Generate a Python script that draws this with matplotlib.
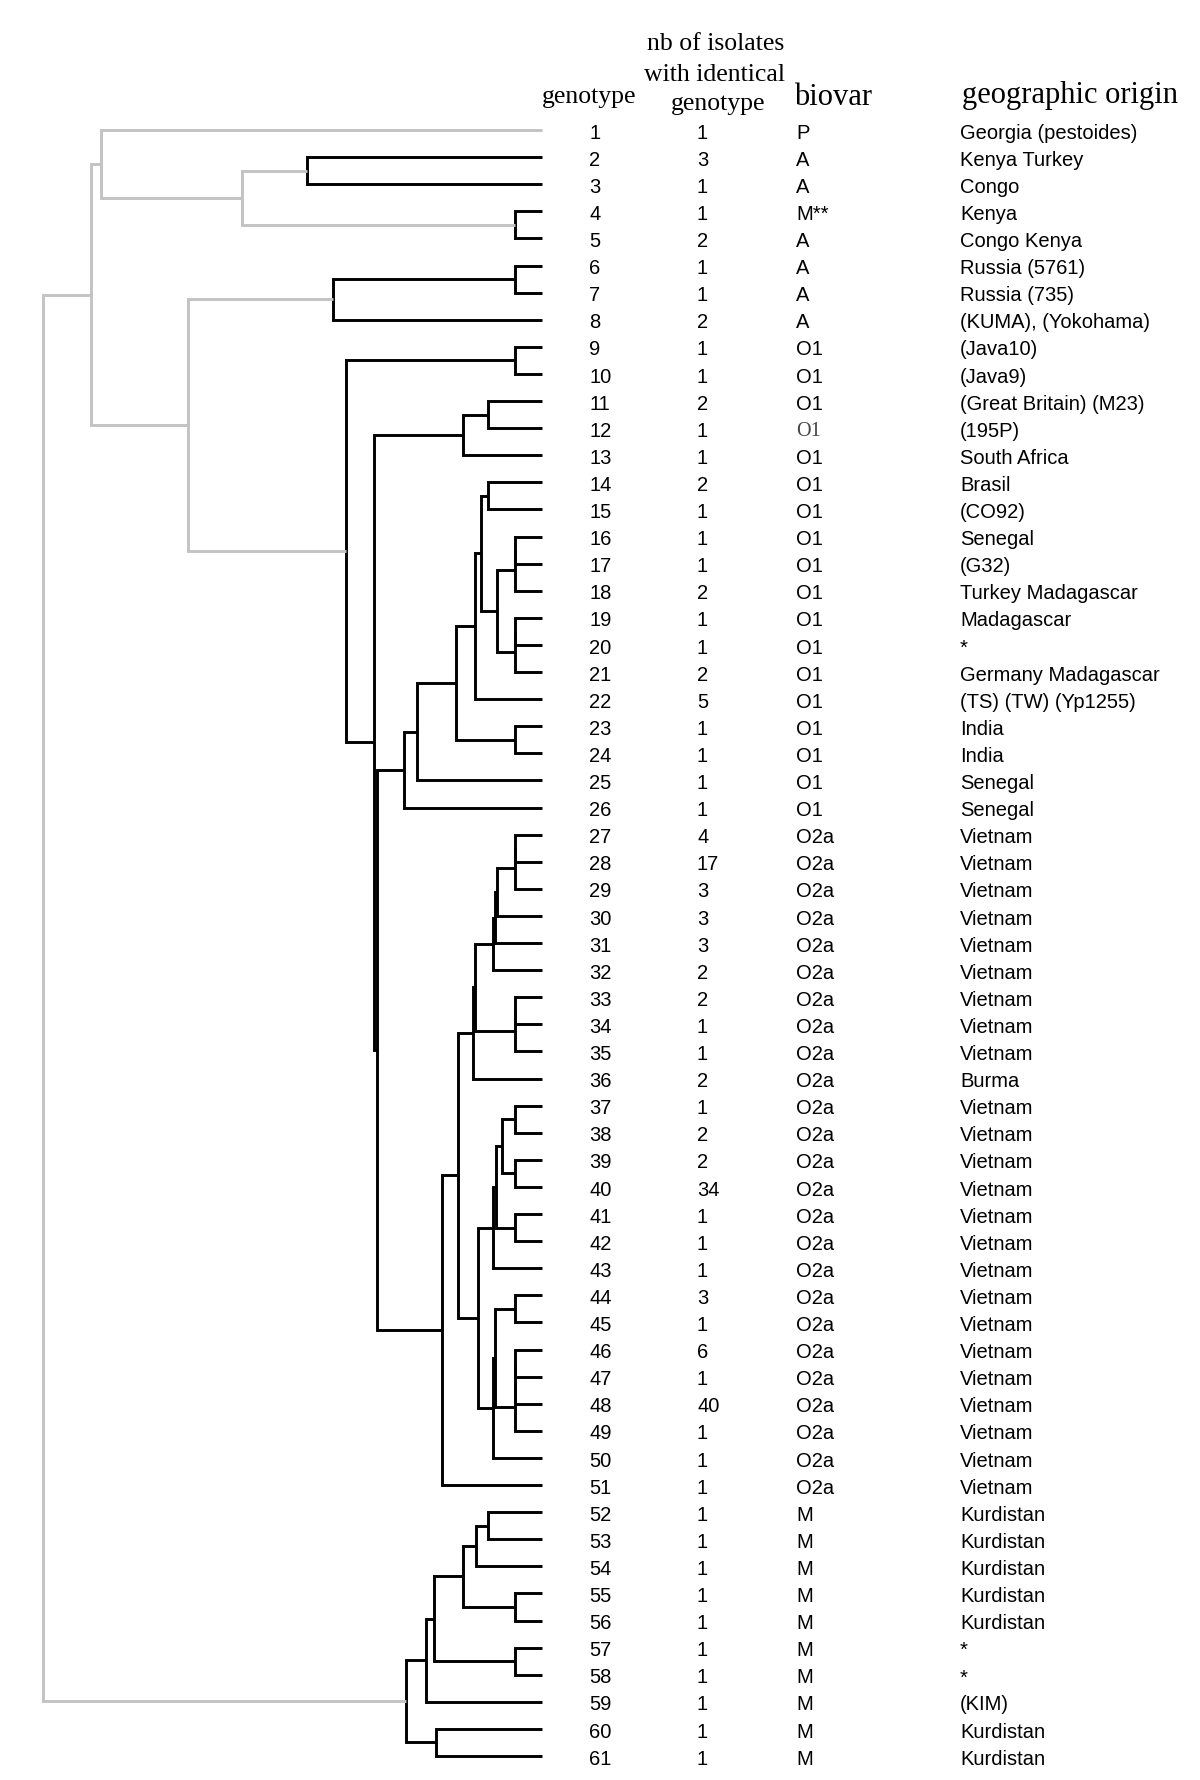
import matplotlib
matplotlib.use("Agg")
import matplotlib.pyplot as plt

# ---- data ---------------------------------------------------------------
genotype = list(range(1, 62))

n_isolates = [1, 3, 1, 1, 2, 1, 1, 2, 1, 1,
              2, 1, 1, 2, 1, 1, 1, 2, 1, 1,
              2, 5, 1, 1, 1, 1, 4, 17, 3, 3,
              3, 2, 2, 1, 1, 2, 1, 2, 2, 34,
              1, 1, 1, 3, 1, 6, 1, 40, 1, 1,
              1, 1, 1, 1, 1, 1, 1, 1, 1, 1, 1]

biovar = ['P', 'A', 'A', 'M**', 'A', 'A', 'A', 'A'] + ['O1'] * 18 + ['O2a'] * 25 + ['M'] * 10
serif_rows = [12]   # this biovar label is set in a serif face in the original

origin = ['Georgia (pestoides)', 'Kenya Turkey', 'Congo', 'Kenya', 'Congo Kenya',
          'Russia (5761)', 'Russia (735)', '(KUMA), (Yokohama)', '(Java10)', '(Java9)',
          '(Great Britain) (M23)', '(195P)', 'South Africa', 'Brasil', '(CO92)',
          'Senegal', '(G32)', 'Turkey Madagascar', 'Madagascar', '*',
          'Germany Madagascar', '(TS) (TW) (Yp1255)', 'India', 'India', 'Senegal',
          'Senegal'] + ['Vietnam'] * 9 + ['Burma'] + ['Vietnam'] * 15 + \
         ['Kurdistan'] * 5 + ['*', '*', '(KIM)', 'Kurdistan', 'Kurdistan']

# dendrogram merges: (node, left child, right child, height); leaves are ints
merges = [
    ('E', 2, 3, 0.471), ('F', 4, 5, 0.054), ('D', 'E', 'F', 0.600),
    ('B', 1, 'D', 0.884),
    ('I', 6, 7, 0.054), ('G', 'I', 8, 0.418),
    ('J', 9, 10, 0.054),
    ('m11', 11, 12, 0.107), ('L', 'm11', 13, 0.158),
    ('N', 14, 15, 0.107),
    ('z16', 16, 17, 0.054), ('Z', 'z16', 18, 0.054),
    ('z19', 19, 20, 0.054), ('Z19', 'z19', 21, 0.054),
    ('Y', 'Z', 'Z19', 0.090), ('X1', 'N', 'Y', 0.122), ('V', 'X1', 22, 0.134),
    ('W', 23, 24, 0.054), ('U', 'V', 'W', 0.172),
    ('T', 'U', 25, 0.251), ('P', 'T', 26, 0.276),
    ('t27', 27, 28, 0.054), ('T27', 't27', 29, 0.054),
    ('AB', 'T27', 30, 0.090), ('AB2', 'AB', 31, 0.094), ('AC', 'AB2', 32, 0.098),
    ('t33', 33, 34, 0.054), ('T33', 't33', 35, 0.054),
    ('AD', 'AC', 'T33', 0.134), ('AE', 'AD', 36, 0.137),
    ('p37', 37, 38, 0.054), ('p39', 39, 40, 0.054), ('AH', 'p37', 'p39', 0.080),
    ('p41', 41, 42, 0.054), ('AI', 'AH', 'p41', 0.092), ('AG', 'AI', 43, 0.098),
    ('p44', 44, 45, 0.054),
    ('q46', 46, 47, 0.054), ('q47', 'q46', 48, 0.054), ('q48', 'q47', 49, 0.054),
    ('AK', 'p44', 'q48', 0.094), ('AJ', 'AK', 50, 0.098),
    ('AF', 'AG', 'AJ', 0.128), ('O2a', 'AE', 'AF', 0.168),
    ('S', 'O2a', 51, 0.199), ('Q', 'P', 'S', 0.331),
    ('K', 'L', 'Q', 0.336), ('H', 'J', 'K', 0.392),
    ('C', 'G', 'H', 0.710), ('A', 'B', 'C', 0.904),
    ('p52', 52, 53, 0.107), ('ME', 'p52', 54, 0.132),
    ('p55', 55, 56, 0.054), ('MD', 'ME', 'p55', 0.158),
    ('p57', 57, 58, 0.054), ('MC', 'MD', 'p57', 0.215),
    ('MB', 'MC', 59, 0.232),
    ('p60', 60, 61, 0.211), ('MA', 'MB', 'p60', 0.272),
    ('R', 'A', 'MA', 1.000),
]
gray_nodes = ['R', 'A', 'B', 'C', 'D']

GRAY = '#c3c3c3'
LW = 2.1

# ---- figure -------------------------------------------------------------
W, H = 1200, 1781
fig = plt.figure(figsize=(W / 100, H / 100), dpi=100)

# vertical placement: leaf 1 at 131 px, spacing 27.1 px
y_top = 131 - 27.1 / 2
y_bot = 131 + 60 * 27.1 + 27.1 / 2
ax_b = 1 - y_bot / H
ax_h = (y_bot - y_top) / H

x_root, x_tip = 42.9, 541.7
ax_tree = fig.add_axes([x_root / W, ax_b, (x_tip - x_root) / W, ax_h])
ax_tree.set_xlim(1.0, 0.0)
ax_tree.set_ylim(61.5, 0.5)
ax_tree.axis('off')

pos = {g: (0.0, float(g)) for g in genotype}
for name, left, right, h in merges:
    hl, yl = pos[left]
    hr, yr = pos[right]
    color = GRAY if name in gray_nodes else 'black'
    ax_tree.plot([hl, h, h, hr], [yl, yl, yr, yr], color=color, lw=LW,
                 solid_joinstyle='miter', solid_capstyle='butt', clip_on=False)
    pos[name] = (h, (yl + yr) / 2)

# ---- table columns ------------------------------------------------------
ax_tab = fig.add_axes([0, ax_b, 1, ax_h])
ax_tab.set_xlim(0, W)
ax_tab.set_ylim(61.5, 0.5)
ax_tab.axis('off')

sans = 'Liberation Sans'
serif = 'Liberation Serif'
fs = 14.5
dy = 0.08   # nudge so glyphs sit centred on the branch
for g, n, b, o in zip(genotype, n_isolates, biovar, origin):
    yy = g + dy
    ax_tab.text(589.5, yy, str(g), fontsize=fs, family=sans, va='center', ha='left')
    ax_tab.text(697, yy, str(n), fontsize=fs, family=sans, va='center', ha='left')
    if g in serif_rows:
        ax_tab.text(796, yy, b, fontsize=fs, family=serif, va='center', ha='left', color='#444444')
    else:
        ax_tab.text(796, yy, b, fontsize=fs, family=sans, va='center', ha='left')
    ax_tab.text(960, yy, o, fontsize=fs, family=sans, va='center', ha='left')

# ---- headers ------------------------------------------------------------
def head(x, y, s, size, ha='center'):
    fig.text(x / W, 1 - y / H, s, fontsize=size, family=serif, ha=ha, va='baseline')

head(589, 103.5, 'genotype', 18.5)
head(716, 50, 'nb of isolates', 18.5)
head(714, 81, 'with identical', 18.5)
head(718, 110, 'genotype', 18.5)
head(794, 105, 'biovar', 22, ha='left')
head(962, 103, 'geographic origin', 22, ha='left')

fig.savefig('out.png', dpi=100, facecolor='white')
